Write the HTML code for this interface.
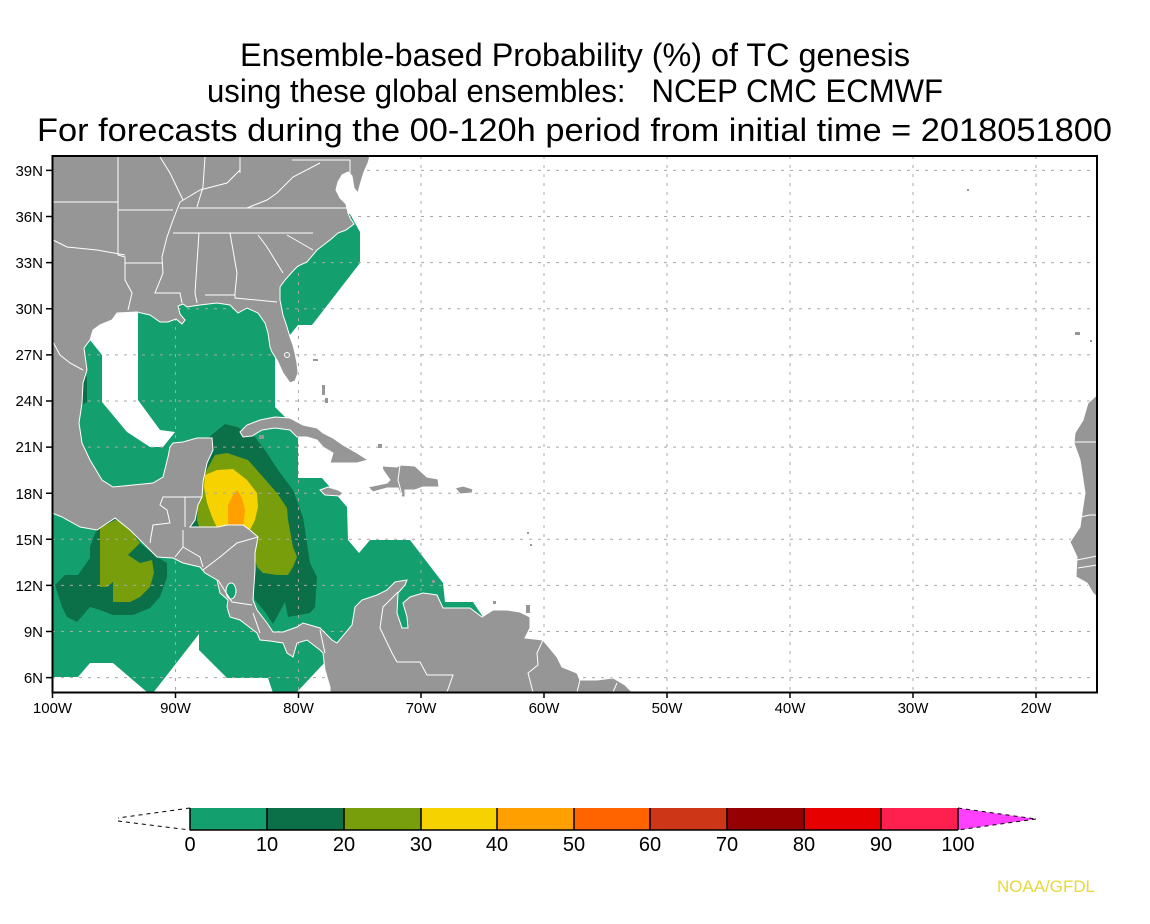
<!DOCTYPE html>
<html><head><meta charset="utf-8"><style>
html,body{margin:0;padding:0;background:#fff;}
svg{display:block;}
text{font-family:"Liberation Sans",sans-serif;}
</style></head><body>
<svg width="1150" height="924" viewBox="0 0 1150 924" xmlns="http://www.w3.org/2000/svg">
<rect x="0" y="0" width="1150" height="924" fill="#fff"/>
<!-- Title -->
<text x="575" y="66" font-size="32" text-anchor="middle" textLength="670" lengthAdjust="spacingAndGlyphs">Ensemble-based Probability (%) of TC genesis</text>
<text x="575" y="102" font-size="32" text-anchor="middle" textLength="736" lengthAdjust="spacingAndGlyphs" xml:space="preserve">using these global ensembles:   NCEP CMC ECMWF</text>
<text x="574.5" y="141" font-size="32" text-anchor="middle" textLength="1075" lengthAdjust="spacingAndGlyphs">For forecasts during the 00-120h period from initial time = 2018051800</text>

<defs><clipPath id="mc"><rect x="52.5" y="156" width="1044.5" height="536.5"/></clipPath></defs>
<g clip-path="url(#mc)">
<!-- light green 0-10 -->
<polygon fill="#14a06e" points="52,330 60,330 138,300 275,300 275,407 283,415 298,430 298,478 322,478 347,507 348,540 359,553 370,540 410,540 443,583 445,602 473,602 485,620 485,660 340,660 327,660 297,692 52,692"/>
<polygon fill="#14a06e" points="338,212 350,214 360,232 360,263 312,325 298,325 290,335 275,300 300,240"/>
<!-- white holes -->
<polygon fill="#fff" points="84,338 90,340 102,355 102,402 127,432 150,447 163,447 175,432 160,430 138,400 138,298 100,298 84,318"/>
<polygon fill="#fff" points="52,677 78,677 90,663 113,663 148,693 52,693"/>
<polygon fill="#fff" points="153,693 199,634 199,650 227,678 268,678 273,693"/>
<!-- dark green 10-20 -->
<polygon fill="#0b6f48" points="82,378 87,376 87,402 82,405"/>
<polygon fill="#0b6f48" points="55,585 65,575 78,575 90,558 90,547 100,520 115,510 130,520 140,543 157,557 167,563 167,577 160,597 150,608 133,615 113,615 100,610 90,607 77,622 67,617 62,607"/>
<polygon fill="#0b6f48" points="200,445 208,438 225,424 237,427 255,437 267,453 278,470 293,490 303,517 307,543 310,563 317,577 315,607 310,613 288,617 285,602 273,624 265,612 255,600 250,580 245,540 188,530 188,515 195,500"/>
<!-- olive 20-30 -->
<polygon fill="#789e0c" points="100,528 115,520 125,523 140,543 128,555 140,563 152,560 154,573 150,587 140,597 130,602 113,602 113,582 107,587 100,587"/>
<polygon fill="#789e0c" points="205,473 215,455 227,453 248,460 263,477 277,493 287,508 288,520 293,547 297,557 293,567 288,575 277,575 263,573 257,567 250,540 200,530 197,520 198,502 197,492"/>
<!-- yellow 30-40 -->
<polygon fill="#f5d200" points="204,487 205,475 217,470 233,469 247,480 257,493 258,507 255,520 250,530 218,530 212,517 207,503"/>
<!-- orange 40-50 -->
<polygon fill="#ffa000" points="228,528 228,505 233,495 237,490 242,498 245,510 243,528"/>

<!-- grid -->
<g stroke="#a8a8a8" stroke-width="1" stroke-dasharray="3 6" fill="none">
<path d="M175.5 156V693M298.5 156V693M421 156V693M544 156V693M667 156V693M790 156V693M913 156V693M1036 156V693"/>
<path d="M52 677.6H1097M52 631.5H1097M52 585.4H1097M52 539.3H1097M52 493.2H1097M52 447.1H1097M52 401H1097M52 354.9H1097M52 308.8H1097M52 262.6H1097M52 216.5H1097M52 170.4H1097"/>
</g>

<!-- land -->
<g fill="#969696" stroke="#fff" stroke-width="1">
<polygon points="52,156 370,156 368,163 364,172 360,185 358,193 354,188 352,176 348,172 342,175 338,182 336,190 340,198 346,204 348,213 350,218 354,224 346,230 338,233 330,240 317,250 307,262 298,266 293,271 285,280 280,287 280,300 283,315 287,327 290,337 293,345 295,353 297,363 298,373 295,381 290,383 283,373 277,360 272,352 270,347 268,333 265,323 258,313 247,308 238,313 230,305 217,303 200,305 187,307 183,304 178,306 180,314 185,320 182,324 176,319 168,322 160,322 150,315 137,312 117,313 112,320 100,325 93,330 90,340 84,348 87,370 83,383 82,403 79,423 82,443 90,460 102,480 113,487 133,485 153,483 163,477 168,457 170,447 173,443 183,442 197,438 212,438 213,450 207,463 203,482 202,497 198,505 195,520 190,527 200,527 218,527 227,525 243,525 250,530 258,537 255,553 255,570 253,600 257,610 267,623 273,632 283,632 297,627 303,623 320,628 332,640 337,643 352,625 355,607 362,600 368,598 377,595 387,590 395,582 407,580 405,585 398,593 397,613 402,628 408,628 407,617 403,603 410,597 423,593 437,595 443,608 470,608 482,617 493,610 507,610 520,612 530,617 530,628 525,638 543,640 557,657 562,667 577,673 580,680 597,680 613,678 625,685 633,693 330,693 330,687 325,670 323,653 320,650 307,640 297,643 293,657 287,653 283,643 270,641 260,640 257,633 240,620 230,617 227,607 228,600 220,593 217,580 205,573 200,567 183,563 173,558 157,557 140,540 130,530 115,518 97,530 80,527 62,517 52,513"/>
<polygon points="240,432 247,425 260,420 275,417 290,418 303,425 317,428 323,433 333,438 343,445 357,453 368,460 357,463 330,463 333,453 323,447 317,440 307,437 297,437 290,430 275,428 262,430 252,436 243,437"/>
<polygon points="320,490 328,487 338,490 343,493 340,496 325,495"/>
<polygon points="383,470 382,466 397,467 400,465 415,466 427,477 438,479 439,487 423,487 415,490 405,490 405,497 402,497 398,488 387,488 373,492 368,487 387,483 390,480"/>
<polygon points="455,488 463,486 473,489 472,493 460,494"/>
<polygon points="1098,394 1088,403 1083,420 1075,433 1074,443 1080,460 1082,473 1085,493 1082,513 1080,527 1070,542 1077,557 1076,577 1087,583 1093,593 1098,598"/>
</g>
<g fill="#969696">
<rect x="313" y="359" width="5" height="2"/>
<rect x="322" y="385" width="3" height="10"/>
<rect x="325" y="398" width="3" height="5"/>
<rect x="378" y="444" width="4" height="4"/>
<rect x="259" y="435" width="5" height="4"/>
<rect x="432" y="580" width="3" height="3"/>
<rect x="493" y="601" width="3" height="3"/>
<rect x="526" y="605" width="4" height="8"/>
<rect x="527" y="532" width="2" height="2"/>
<rect x="530" y="544" width="2" height="2"/>
<rect x="1075" y="332" width="5" height="3"/>
<rect x="1090" y="340" width="2" height="2"/>
<rect x="967" y="189" width="2" height="2"/>
</g>
<ellipse cx="231" cy="591" rx="5" ry="8" fill="#14a06e" stroke="#fff" stroke-width="1"/>
<ellipse cx="287" cy="355" rx="2.5" ry="2.5" fill="#969696" stroke="#fff" stroke-width="1"/>

<!-- borders -->
<g stroke="#fff" stroke-width="1" fill="none">
<path d="M118 157L118 255L125 257L125 280L132 293L128 310"/>
<path d="M53 202L118 202M118 210L173 210M180 208L348 208"/>
<path d="M53 240L67 247L97 250L125 255M125 263L162 263"/>
<path d="M180 202L173 220L167 237L162 257L163 273L155 293L180 293L182 303"/>
<path d="M173 233L313 233M199 233L195 293L197 303M230 233L237 273L235 293L235 298L277 302M205 295L235 295"/>
<path d="M258 235L267 247L283 273M287 235L313 250"/>
<path d="M180 202L200 190L227 183L240 170M247 208L267 200L277 193L293 177L320 163M240 157L240 173M205 157L203 187L197 207M160 157L170 173L183 200M292 160L350 160L350 180"/>
<path d="M53 342L60 355L70 363L83 370"/>
<path d="M202 497L163 497L160 505L167 510L170 523L153 525L150 543M185 497L185 527M183 530L183 547L175 557M183 547L200 557L203 567M203 570L220 557L237 543L258 537M218 580L232 602L252 605M253 613L260 633M320 630L325 653"/>
<path d="M398 592L383 607L380 628L392 653L397 662L420 662L427 675L453 675L447 692M543 640L537 653L538 665L528 673L533 692M580 680L577 692M617 683L613 692"/>
<path d="M400 465L398 480L402 495"/>
<path d="M1074 442L1097 442M1080 517L1090 515L1097 515M1077 560L1097 556M1078 568L1097 565"/>
</g>
</g>

<!-- frame -->
<rect x="52.5" y="156" width="1044.5" height="536.5" fill="none" stroke="#000" stroke-width="2"/>
<!-- ticks -->
<g stroke="#000" stroke-width="1.5">
<path d="M46 677.6H52M46 631.5H52M46 585.4H52M46 539.3H52M46 493.2H52M46 447.1H52M46 401H52M46 354.9H52M46 308.8H52M46 262.6H52M46 216.5H52M46 170.4H52"/>
<path d="M52.5 692V698M175.5 692V698M298.5 692V698M421 692V698M544 692V698M667 692V698M790 692V698M913 692V698M1036 692V698"/>
</g>
<g font-size="15" text-anchor="end" fill="#000">
<text x="43" y="683">6N</text><text x="43" y="637">9N</text><text x="43" y="591">12N</text><text x="43" y="545">15N</text><text x="43" y="499">18N</text><text x="43" y="452">21N</text><text x="43" y="406">24N</text><text x="43" y="360">27N</text><text x="43" y="314">30N</text><text x="43" y="268">33N</text><text x="43" y="222">36N</text><text x="43" y="176">39N</text>
</g>
<g font-size="15" text-anchor="middle" fill="#000">
<text x="52.5" y="713">100W</text><text x="175.5" y="713">90W</text><text x="298.5" y="713">80W</text><text x="421" y="713">70W</text><text x="544" y="713">60W</text><text x="667" y="713">50W</text><text x="790" y="713">40W</text><text x="913" y="713">30W</text><text x="1036" y="713">20W</text>
</g>

<!-- colorbar -->
<rect x="190" y="808" width="77" height="22" fill="#14a06e"/>
<rect x="267" y="808" width="77" height="22" fill="#0b6f48"/>
<rect x="344" y="808" width="77" height="22" fill="#789e0c"/>
<rect x="421" y="808" width="76" height="22" fill="#f5d200"/>
<rect x="497" y="808" width="77" height="22" fill="#ffa000"/>
<rect x="574" y="808" width="76" height="22" fill="#ff6400"/>
<rect x="650" y="808" width="77" height="22" fill="#cd3718"/>
<rect x="727" y="808" width="77" height="22" fill="#960000"/>
<rect x="804" y="808" width="77" height="22" fill="#e60000"/>
<rect x="881" y="808" width="77" height="22" fill="#ff2050"/>
<polygon points="958,808 1036,819 958,830" fill="#ff40ff"/>
<g stroke="#000" stroke-width="1.5" fill="none">
<path d="M190 830H958"/>
<path d="M190 808V830M267 808V830M344 808V830M421 808V830M497 808V830M574 808V830M650 808V830M727 808V830M804 808V830M881 808V830M958 808V830"/>
</g>
<g stroke="#000" stroke-width="1" fill="none" stroke-dasharray="4 4">
<path d="M190 808L118 818M118 821L190 830"/>
<path d="M958 808L1036 819M1036 819L958 830"/>
</g>
<g font-size="20" text-anchor="middle" fill="#000">
<text x="190" y="851">0</text><text x="267" y="851">10</text><text x="344" y="851">20</text><text x="421" y="851">30</text><text x="497" y="851">40</text><text x="574" y="851">50</text><text x="650" y="851">60</text><text x="727" y="851">70</text><text x="804" y="851">80</text><text x="881" y="851">90</text><text x="958" y="851">100</text>
</g>
<text x="997" y="892" font-size="17" fill="#e6d83a" textLength="98" lengthAdjust="spacingAndGlyphs">NOAA/GFDL</text>
</svg>
</body></html>
